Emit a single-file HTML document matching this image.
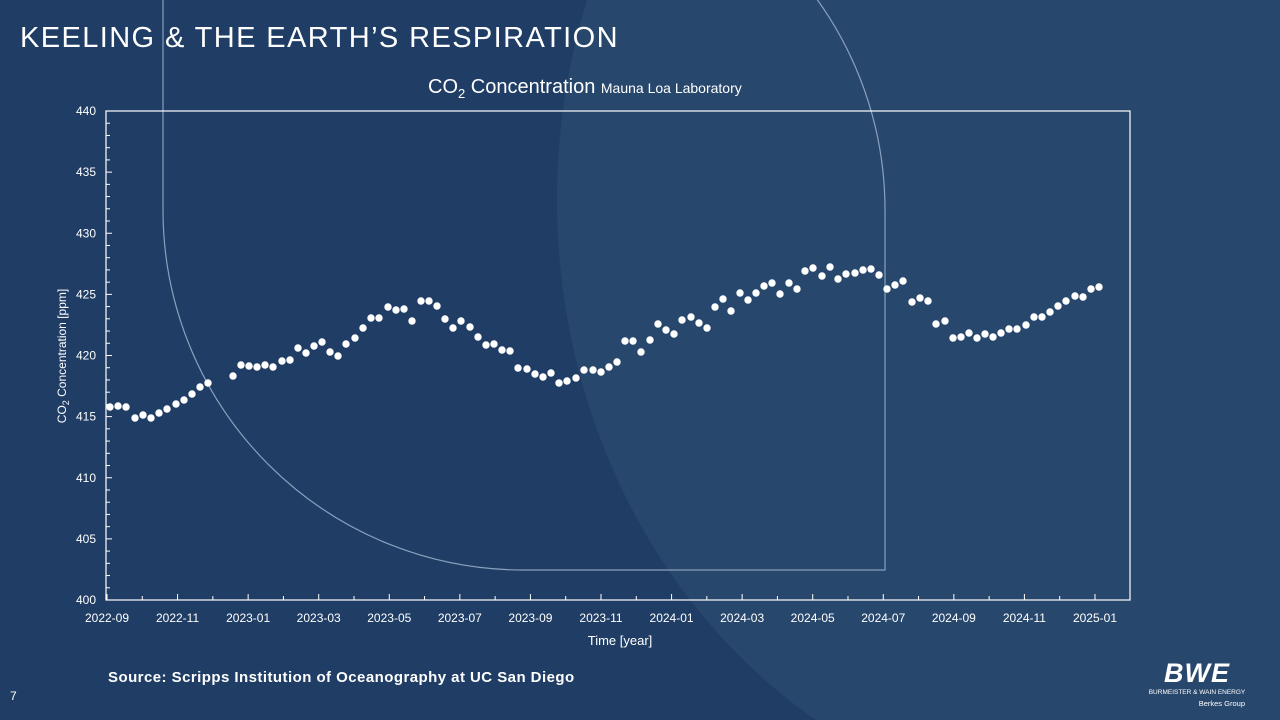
<!DOCTYPE html>
<html><head><meta charset="utf-8"><style>
html,body{margin:0;padding:0;width:1280px;height:720px;overflow:hidden;}
body{background:#1f3d65;font-family:"Liberation Sans",sans-serif;position:relative;}
svg{display:block;}
</style></head><body>
<svg width="1280" height="720" xmlns="http://www.w3.org/2000/svg" style="position:absolute;left:0;top:0">
<rect width="1280" height="720" fill="#1f3d65"/>
<ellipse cx="1100" cy="200" rx="543" ry="610" fill="#28476d"/>
<path d="M163,0 L163,210 A360,360 0 0 0 523,570 L885,570 L885,210 A360,360 0 0 0 525,-150" fill="none" stroke="#8aa0bd" stroke-width="1.2"/>
<text x="20" y="47" fill="#fff" font-size="29" font-family="Liberation Sans, sans-serif" letter-spacing="1.4">KEELING &amp; THE EARTH’S RESPIRATION</text>
<text x="428" y="93" fill="#fff" font-size="20">CO<tspan font-size="13" dy="5">2</tspan><tspan dy="-5"> Concentration </tspan><tspan font-size="14">Mauna Loa Laboratory</tspan></text>
<rect x="106" y="111" width="1024" height="489" fill="none" stroke="#fff" stroke-width="1.2"/>
<g stroke="#fff" stroke-width="1" id="ticks"></g>
<g fill="#fff" font-size="12" text-anchor="end" id="ylab"></g>
<g fill="#fff" font-size="12" text-anchor="middle" id="xlab"></g>
<text x="620" y="645" fill="#fff" font-size="13" text-anchor="middle">Time [year]</text>
<text transform="translate(66,356) rotate(-90)" fill="#fff" font-size="12" text-anchor="middle">CO<tspan font-size="9" dy="3">2</tspan><tspan dy="-3"> Concentration [ppm]</tspan></text>
<g fill="#fff" id="pts"></g>
<text x="108" y="682" fill="#fff" font-size="15" font-weight="bold" letter-spacing="0.45">Source: Scripps Institution of Oceanography at UC San Diego</text>
<text x="10" y="700" fill="#fff" font-size="12">7</text>
<text x="1197" y="682" fill="#fff" font-size="27" font-weight="bold" text-anchor="middle" letter-spacing="1" font-style="italic">BWE</text>
<text x="1197" y="694" fill="#fff" font-size="6.5" text-anchor="middle">BURMEISTER &amp; WAIN ENERGY</text>
<text x="1245" y="706" fill="#fff" font-size="7.5" text-anchor="end">Berkes Group</text>
</svg>
<script>
var ns="http://www.w3.org/2000/svg";
function el(p,t,a,txt){var e=document.createElementNS(ns,t);for(var k in a)e.setAttribute(k,a[k]);if(txt!=null)e.textContent=txt;document.getElementById(p).appendChild(e);}
for(var v=400;v<=440;v++){var y=600-(v-400)*12.225;var l=(v%5==0)?6:4;el("ticks","line",{x1:106,x2:106+l,y1:y,y2:y});if(v%5==0)el("ylab","text",{x:96,y:y+4},v);}
var xl=["2022-09","2022-11","2023-01","2023-03","2023-05","2023-07","2023-09","2023-11","2024-01","2024-03","2024-05","2024-07","2024-09","2024-11","2025-01"];
for(var m=0;m<=28;m++){var xm=107+m*35.285;el("ticks","line",{x1:xm,x2:xm,y1:600,y2:(m%2==0)?594:596});}
for(var i=0;i<xl.length;i++){var x=107+i*70.57;el("xlab","text",{x:x,y:622},xl[i]);}
var p=[110,407,118,406,126,407,135,418,143,415,151,418,159,413,167,409,176,404,184,400,192,394,200,387,208,383,233,376,241,365,249,366,257,367,265,365,273,367,282,361,290,360,298,348,306,353,314,346,322,342,330,352,338,356,346,344,355,338,363,328,371,318,379,318,388,307,396,310,404,309,412,321,421,301,429,301,437,306,445,319,453,328,461,321,470,327,478,337,486,345,494,344,502,350,510,351,518,368,527,369,535,374,543,377,551,373,559,383,567,381,576,378,584,370,593,370,601,372,609,367,617,362,625,341,633,341,641,352,650,340,658,324,666,330,674,334,682,320,691,317,699,323,707,328,715,307,723,299,731,311,740,293,748,300,756,293,764,286,772,283,780,294,789,283,797,289,805,271,813,268,822,276,830,267,838,279,846,274,855,273,863,270,871,269,879,275,887,289,895,285,903,281,912,302,920,298,928,301,936,324,945,321,953,338,961,337,969,333,977,338,985,334,993,337,1001,333,1009,329,1017,329,1026,325,1034,317,1042,317,1050,312,1058,306,1066,301,1075,296,1083,297,1091,289,1099,287];
for(var j=0;j<p.length;j+=2)el("pts","circle",{cx:p[j],cy:p[j+1],r:3.7});
</script>
</body></html>
